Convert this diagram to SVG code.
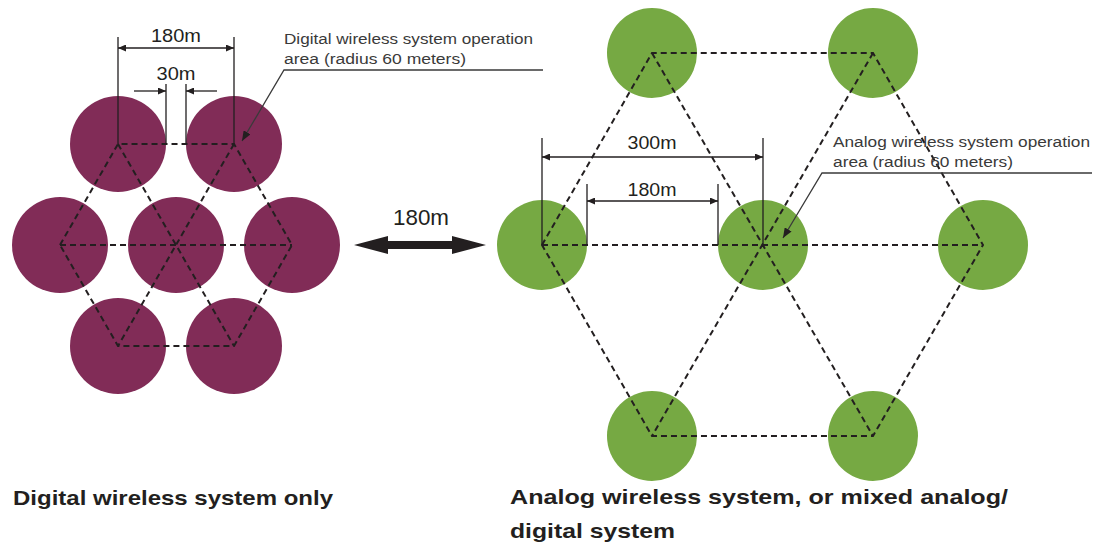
<svg xmlns="http://www.w3.org/2000/svg" width="1105" height="545" viewBox="0 0 1105 545">
<style>
.maroon{fill:#812c57}
.green{fill:#76a943}
.dash{stroke:#231f20;stroke-width:2;stroke-dasharray:6 4;fill:none}
.dim{stroke:#231f20;stroke-width:1.3;fill:none}
.lead{stroke:#3a3a3a;stroke-width:1.3;fill:none}
.dimtxt{font-family:"Liberation Sans",Arial,sans-serif;font-size:18.5px;fill:#231f20;text-anchor:middle}
.ann{font-family:"Liberation Sans",Arial,sans-serif;font-size:15.5px;fill:#3a3a3a}
.title{font-family:"Liberation Sans",Arial,sans-serif;font-size:21px;font-weight:bold;fill:#231f20}
</style>
<defs>
<marker id="ah" viewBox="0 0 8 7" refX="8" refY="3.5" markerWidth="8" markerHeight="7" markerUnits="userSpaceOnUse" orient="auto-start-reverse">
<path d="M0,0 L8,3.5 L0,7 z" fill="#231f20"/>
</marker>
<marker id="ah2" viewBox="0 0 10 8" refX="10" refY="4" markerWidth="10" markerHeight="8" markerUnits="userSpaceOnUse" orient="auto">
<path d="M0,0 L10,4 L0,8 z" fill="#231f20"/>
</marker>
</defs>

<!-- Left cluster: digital -->
<g id="d-top-left"><circle class="maroon" cx="118" cy="144" r="48"/></g>
<g id="d-top-right"><circle class="maroon" cx="234" cy="144" r="48"/></g>
<g id="d-left"><circle class="maroon" cx="60" cy="245" r="48"/></g>
<g id="d-center"><circle class="maroon" cx="176" cy="245" r="48"/></g>
<g id="d-right"><circle class="maroon" cx="292" cy="245" r="48"/></g>
<g id="d-bottom-left"><circle class="maroon" cx="118" cy="346" r="48"/></g>
<g id="d-bottom-right"><circle class="maroon" cx="234" cy="346" r="48"/></g>

<!-- Right cluster: analog -->
<g id="a-top-left"><circle class="green" cx="652" cy="53" r="45"/></g>
<g id="a-top-right"><circle class="green" cx="873" cy="53" r="45"/></g>
<g id="a-left"><circle class="green" cx="542" cy="245" r="45"/></g>
<g id="a-center"><circle class="green" cx="763" cy="245" r="45"/></g>
<g id="a-right"><circle class="green" cx="983" cy="245" r="45"/></g>
<g id="a-bottom-left"><circle class="green" cx="652" cy="436" r="45"/></g>
<g id="a-bottom-right"><circle class="green" cx="873" cy="436" r="45"/></g>

<g id="connectors">
<!-- left hexagon + diagonals -->
<path class="dash" d="M60,245 L118,144 L234,144 L292,245 L234,346 L118,346 Z"/>
<path class="dash" d="M60,245 L292,245 M118,144 L234,346 M234,144 L118,346"/>
<!-- right hexagon + diagonals -->
<path class="dash" d="M542,245 L652,53 L873,53 L983,245 L873,436 L652,436 Z"/>
<path class="dash" d="M542,245 L983,245 M652,53 L873,436 M873,53 L652,436"/>

<!-- left dimensions -->
<path class="dim" d="M118,37 V144 M234,37 V144"/>
<path class="dim" d="M118,48 H234" marker-start="url(#ah)" marker-end="url(#ah)"/>
<path class="dim" d="M166,84 V144 M186,84 V144"/>
<path class="dim" d="M134,91 H166" marker-end="url(#ah)"/>
<path class="dim" d="M217,91 H186" marker-end="url(#ah)"/>

<!-- right dimensions -->
<path class="dim" d="M542,138 V245 M763,138 V245"/>
<path class="dim" d="M542,157 H763" marker-start="url(#ah)" marker-end="url(#ah)"/>
<path class="dim" d="M587,184 V245 M718,184 V245"/>
<path class="dim" d="M587,201 H718" marker-start="url(#ah)" marker-end="url(#ah)"/>

<!-- leaders -->
<path class="lead" d="M543,70 H284 L242,141" marker-end="url(#ah2)"/>
<path class="lead" d="M1092,173 H822 L783,238" marker-end="url(#ah2)"/>

<!-- double arrow -->
<polygon points="354,245 388,236 388,241 452,241 452,236 486,245 452,254 452,249 388,249 388,254" fill="#231f20"/>
</g>

<text class="dimtxt" x="176" y="42" textLength="50" lengthAdjust="spacingAndGlyphs">180m</text>
<text class="dimtxt" x="176" y="80" textLength="39" lengthAdjust="spacingAndGlyphs">30m</text>
<text class="dimtxt" x="652" y="149" textLength="49" lengthAdjust="spacingAndGlyphs">300m</text>
<text class="dimtxt" x="652" y="195.5" textLength="49" lengthAdjust="spacingAndGlyphs">180m</text>
<text class="dimtxt" x="421" y="225" style="font-size:21.5px" textLength="56" lengthAdjust="spacingAndGlyphs">180m</text>

<text class="ann" x="284" y="44" textLength="249" lengthAdjust="spacingAndGlyphs">Digital wireless system operation</text>
<text class="ann" x="284" y="64" textLength="182" lengthAdjust="spacingAndGlyphs">area (radius 60 meters)</text>
<text class="ann" x="833" y="147" textLength="257" lengthAdjust="spacingAndGlyphs">Analog wireless system operation</text>
<text class="ann" x="833" y="167" textLength="180" lengthAdjust="spacingAndGlyphs">area (radius 60 meters)</text>

<text class="title" x="13" y="505" textLength="320" lengthAdjust="spacingAndGlyphs">Digital wireless system only</text>
<text class="title" x="510" y="503.5" textLength="498" lengthAdjust="spacingAndGlyphs">Analog wireless system, or mixed analog/</text>
<text class="title" x="510" y="538" textLength="165" lengthAdjust="spacingAndGlyphs">digital system</text>
</svg>
